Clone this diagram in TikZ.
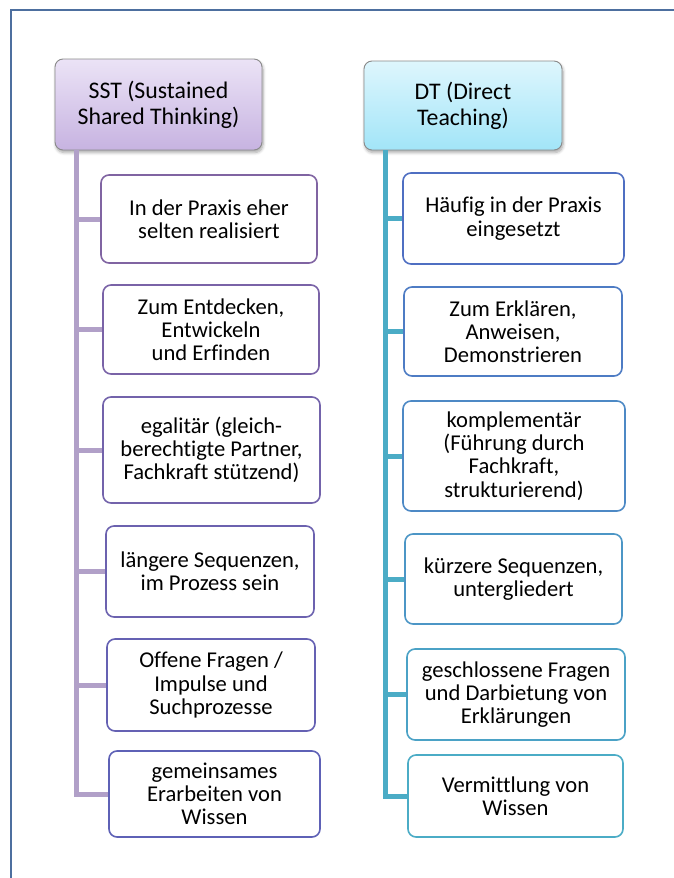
\documentclass[tikz,border=0pt]{standalone}
\usepackage{fontspec}
\setmainfont{Carlito}[Ligatures={NoCommon}]
\usetikzlibrary{shadows.blur}

\definecolor{framec}{HTML}{4D6F9F}
\definecolor{sstbarc}{HTML}{B1A0C8}
\definecolor{dtbarc}{HTML}{4BACC6}
\definecolor{sstTop}{HTML}{EBE3F6}
\definecolor{sstBot}{HTML}{C7B3E1}
\definecolor{dtTop}{HTML}{DEF6FD}
\definecolor{dtBot}{HTML}{A2E5F8}
\definecolor{headborder}{HTML}{8A8A8A}
% border tones of the left column, purple fading to blue
\definecolor{la}{HTML}{8064A2}
\definecolor{lb}{HTML}{7A63A7}
\definecolor{lc}{HTML}{7363AB}
\definecolor{ld}{HTML}{6C62AF}
\definecolor{le}{HTML}{6561B3}
\definecolor{lf}{HTML}{5E61B6}
% border tones of the right column, blue fading to teal
\definecolor{ra}{HTML}{4F6FC2}
\definecolor{rb}{HTML}{4E7CC4}
\definecolor{rc}{HTML}{4D89C5}
\definecolor{rd}{HTML}{4C96C6}
\definecolor{re}{HTML}{4BA2C6}
\definecolor{rf}{HTML}{4BACC6}

\tikzset{
  header/.style={draw=headborder, line width=0.9pt, rounded corners=8pt,
    align=center, inner sep=0pt, font=\fontsize{23.8}{26}\selectfont,
    blur shadow={shadow xshift=1pt, shadow yshift=-2.5pt, shadow blur steps=6,
      shadow blur radius=3pt, shadow opacity=35}},
  sstHead/.style={header, top color=sstTop, bottom color=sstBot},
  dtHead/.style={header, top color=dtTop, bottom color=dtBot},
  item/.style={draw, fill=white, line width=1.6pt, rounded corners=8pt,
    align=center, inner sep=0pt, font=\fontsize{22.6}{23.2}\selectfont},
  sstlink/.style={draw=sstbarc, line width=5pt},
  dtlink/.style={draw=dtbarc, line width=5pt}
}

\begin{document}
\begin{tikzpicture}[x=1pt, y=-1pt]
\useasboundingbox (0,0) rectangle (674,878);
\clip (0,0) rectangle (674,878);

% outer frame, running past the page on the right and at the bottom
\draw[framec, line width=1.5pt] (11,900) -- (11,10) -- (700,10);

% column headers
\node[sstHead, minimum width=207pt, minimum height=91pt] (sst) at (158.5,104.5)
  {SST (Sustained\\Shared Thinking)};
\node[dtHead, minimum width=198pt, minimum height=89pt] (dt) at (463,105.5)
  {DT (Direct\\Teaching)};

% left column
\node[item, draw=la, minimum width=216pt, minimum height=88pt] (s1) at (209,219)
  {In der Praxis eher\\selten realisiert};
\node[item, draw=lb, minimum width=216pt, minimum height=89pt] (s2) at (211,329.5)
  {Zum Entdecken,\\Entwickeln\\und Erfinden};
\node[item, draw=lc, minimum width=217pt, minimum height=106pt] (s3) at (211.5,450)
  {egalitär (gleich-\\berechtigte Partner,\\Fachkraft stützend)};
\node[item, draw=ld, minimum width=208pt, minimum height=91pt] (s4) at (210,571.5)
  {längere Sequenzen,\\im Prozess sein};
\node[item, draw=le, minimum width=208pt, minimum height=92pt] (s5) at (211,685)
  {Offene Fragen /\\Impulse und\\Suchprozesse};
\node[item, draw=lf, minimum width=211pt, minimum height=86pt] (s6) at (214.5,794)
  {gemeinsames\\Erarbeiten von\\Wissen};

% right column
\node[item, draw=ra, minimum width=221pt, minimum height=91pt] (d1) at (513.5,218.5)
  {Häufig in der Praxis\\eingesetzt};
\node[item, draw=rb, minimum width=218pt, minimum height=89pt] (d2) at (513,331.5)
  {Zum Erklären,\\Anweisen,\\Demonstrieren};
\node[item, draw=rc, minimum width=222pt, minimum height=110pt] (d3) at (514,456)
  {komplementär\\(Führung durch\\Fachkraft,\\strukturierend)};
\node[item, draw=rd, minimum width=217pt, minimum height=90pt] (d4) at (513.5,579)
  {kürzere Sequenzen,\\untergliedert};
\node[item, draw=re, minimum width=218pt, minimum height=91pt] (d5) at (516,694.5)
  {geschlossene Fragen\\und Darbietung von\\Erklärungen};
\node[item, draw=rf, minimum width=215pt, minimum height=82pt] (d6) at (515.5,796)
  {Vermittlung von\\Wissen};

% trunks and branches
\coordinate (sstbar) at ([xshift=22pt]sst.south west);
\coordinate (dtbar) at ([xshift=21.5pt]dt.south west);

\draw[sstlink] (sstbar) |- (s6.west);
\foreach \i in {1,...,5} \draw[sstlink] (sstbar |- s\i.west) -- (s\i.west);

\draw[dtlink] (dtbar) |- (d6.west);
\foreach \i in {1,...,5} \draw[dtlink] (dtbar |- d\i.west) -- (d\i.west);
\end{tikzpicture}
\end{document}
